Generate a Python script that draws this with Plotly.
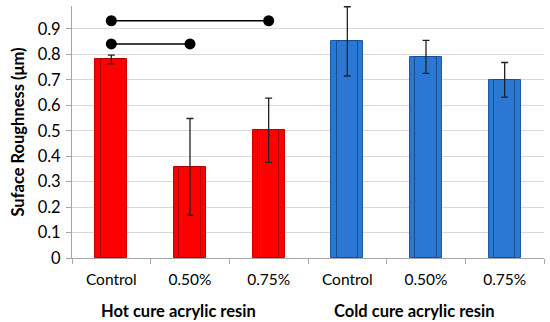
import plotly.graph_objects as go

categories = ["Control", "0.50%", "0.75%", "Control", "0.50%", "0.75%"]
groups = ["Hot cure acrylic resin", "Cold cure acrylic resin"]
group_size = 3
values = [0.78, 0.358, 0.502, 0.851, 0.79, 0.70]
errors = [0.017, 0.19, 0.126, 0.136, 0.065, 0.068]
y_ticks = [0, 0.1, 0.2, 0.3, 0.4, 0.5, 0.6, 0.7, 0.8, 0.9]
sig_pairs = [(0, 2, 0.932), (0, 1, 0.841)]  # (from index, to index, level)

fill = ["#ff0000"] * 3 + ["#2b78d4"] * 3
edge = ["#c80000"] * 3 + ["#1d5aa6"] * 3
inner_edge = ["#b00000"] * 3 + ["#174c8f"] * 3

x = list(range(len(categories)))
FONT = "Lato"

fig = go.Figure()
fig.add_trace(go.Bar(
    x=x, y=values, width=0.41,
    marker=dict(color=fill, line=dict(color=edge, width=1)),
    showlegend=False, hoverinfo="skip",
))
fig.add_trace(go.Bar(
    x=x, y=values, width=0.27,
    marker=dict(color=fill, line=dict(color=inner_edge, width=1)),
    error_y=dict(type="data", array=errors, visible=True,
                 color="#222222", thickness=1.3, width=3.5),
    showlegend=False,
))
for a, b, lvl in sig_pairs:
    fig.add_trace(go.Scatter(
        x=[a, b], y=[lvl, lvl], mode="lines+markers",
        line=dict(color="black", width=1.5),
        marker=dict(color="black", size=11),
        showlegend=False, cliponaxis=False,
    ))

for i, g in enumerate(groups):
    fig.add_annotation(
        x=i * group_size + (group_size - 1) / 2 - 0.14, y=0, xref="x", yref="paper",
        yshift=-53, yanchor="middle", text="<b>%s</b>" % g, showarrow=False,
        font=dict(family=FONT, size=16.5, color="black"),
    )

fig.update_layout(
    width=550, height=322,
    margin=dict(l=72, r=6, t=6, b=64),
    plot_bgcolor="white", paper_bgcolor="white",
    barmode="overlay", bargap=0,
    font=dict(family=FONT, color="black"),
)
fig.update_xaxes(
    range=[-0.5, 5.5], tickvals=x, ticktext=categories,
    ticks="", showgrid=False, zeroline=False,
    showline=True, linecolor="#a6a6a6", linewidth=1,
    tickfont=dict(size=15.5, family=FONT), ticklabelstandoff=7,
    minor=dict(tick0=-0.5, dtick=1, ticks="outside", ticklen=5,
               tickcolor="#a6a6a6", showgrid=False),
)
fig.update_yaxes(
    range=[0, 0.99], tickvals=y_ticks, ticktext=[f"{v:g}" for v in y_ticks],
    showgrid=True, gridcolor="#d9d9d9", gridwidth=1, zeroline=False,
    showline=True, linecolor="#a6a6a6", linewidth=1,
    ticks="outside", ticklen=5, tickcolor="#a6a6a6",
    tickfont=dict(size=16.5, family=FONT), ticklabelstandoff=2,
    title=dict(text="<b>Suface Roughness (μm)</b>", font=dict(size=16.5, family=FONT), standoff=8),
)

fig.write_html("out.html", config={"displayModeBar": False},
               post_script="document.body.style.margin='0px';")
